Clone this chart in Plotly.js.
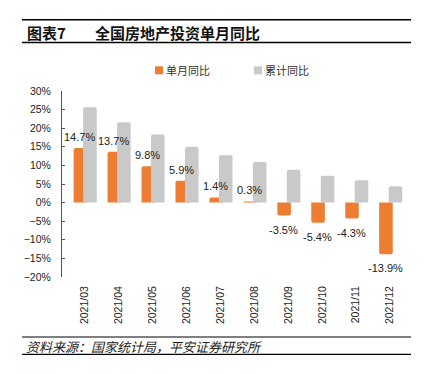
<!DOCTYPE html>
<html>
<head>
<meta charset="utf-8">
<script src="https://cdn.plot.ly/plotly-3.0.1.min.js"></script>
<style>
html,body{margin:0;padding:0;background:#fff;}
#chart{width:434px;height:374px;}
</style>
</head>
<body>
<div id="chart"></div>
<script>
// ---- data ----
const categories = ['2021/03','2021/04','2021/05','2021/06','2021/07','2021/08','2021/09','2021/10','2021/11','2021/12'];
const monthlyYoY = [14.7, 13.7, 9.8, 5.9, 1.4, 0.3, -3.5, -5.4, -4.3, -13.9];
const cumulativeYoY = [25.6, 21.6, 18.3, 15.0, 12.7, 10.9, 8.8, 7.2, 6.0, 4.4];
const seriesNames = ['单月同比', '累计同比'];
const figureLabel = '图表7';
const chartTitle = '全国房地产投资单月同比';
const sourceNote = '资料来源：国家统计局，平安证券研究所';
const yRange = [-20, 30];

// ---- geometry helpers (pixels -> paper) ----
const W = 434, H = 374, L = 62, R = 27, T = 90.7, B = 97.3;
const PW = W - L - R, PH = H - T - B;
const px = x => (x - L) / PW;
const py = y => (H - B - y) / PH;

const ORANGE = '#ED7D31', GRAY = '#C9C9C9';
const NUMFONT = 'Liberation Sans, Arial, sans-serif';
const CJK = 'Noto Sans CJK SC, sans-serif';

const traces = [
  {type:'bar', name:seriesNames[0], x:categories, y:monthlyYoY,
   marker:{color:ORANGE, cornerradius:2}, offset:-0.32, width:0.4,
   hoverinfo:'skip', showlegend:false},
  {type:'bar', name:seriesNames[1], x:categories, y:cumulativeYoY,
   marker:{color:GRAY, cornerradius:2}, offset:-0.04, width:0.4,
   hoverinfo:'skip', showlegend:false}
];

const annotations = monthlyYoY.map((v, i) => ({
  x: categories[i], y: v, xref:'x', yref:'y', showarrow:false,
  text: v.toFixed(1) + '%', xshift:-5,
  yanchor: v >= 0 ? 'bottom' : 'top', yshift: v >= 0 ? 3 : -6,
  font:{family:NUMFONT, size:11, color:'#222'}
}));

annotations.push(
  {xref:'paper', yref:'paper', x:px(25), y:py(32), xanchor:'left', yanchor:'middle', showarrow:false,
   text:figureLabel, font:{family:CJK, size:15, color:'#111', weight:'bold'}},
  {xref:'paper', yref:'paper', x:px(93), y:py(32), xanchor:'left', yanchor:'middle', showarrow:false,
   text:chartTitle, font:{family:CJK, size:15, color:'#111', weight:'bold'}},
  {xref:'paper', yref:'paper', x:px(164), y:py(70), xanchor:'left', yanchor:'middle', showarrow:false,
   text:seriesNames[0], font:{family:CJK, size:11, color:'#333'}},
  {xref:'paper', yref:'paper', x:px(263), y:py(70), xanchor:'left', yanchor:'middle', showarrow:false,
   text:seriesNames[1], font:{family:CJK, size:11, color:'#333'}},
  {xref:'paper', yref:'paper', x:px(24), y:py(346), xanchor:'left', yanchor:'middle', showarrow:false,
   text:sourceNote, font:{family:CJK, size:13, color:'#222', style:'italic'}}
);

const hline = (y, w) => ({type:'line', xref:'paper', yref:'paper', x0:px(22), x1:px(411), y0:py(y), y1:py(y),
  line:{color:'#000', width:w}});
const shapes = [
  hline(19.5, 1.5), hline(42.3, 1.5), hline(336.7, 1.2), hline(354, 1.2),
  {type:'rect', xref:'paper', yref:'paper', x0:px(155), x1:px(163), y0:py(66), y1:py(74),
   fillcolor:ORANGE, line:{width:0}},
  {type:'rect', xref:'paper', yref:'paper', x0:px(254), x1:px(262), y0:py(66), y1:py(74),
   fillcolor:GRAY, line:{width:0}}
];

const zeroFrac = (0 - yRange[0]) / (yRange[1] - yRange[0]);

const layout = {
  width:W, height:H,
  margin:{l:L, r:R, t:T, b:B, pad:0},
  paper_bgcolor:'#fff', plot_bgcolor:'#fff',
  showlegend:false,
  barmode:'group',
  font:{family:NUMFONT, size:10.5, color:'#222'},
  xaxis:{type:'category', showline:false, showgrid:false, zeroline:false,
    ticks:'', tickangle:-90, ticklabelstandoff:6,
    tickfont:{family:NUMFONT, size:10.5, color:'#222'}},
  xaxis2:{overlaying:'x', anchor:'free', position:zeroFrac, type:'linear',
    range:[-0.5, categories.length - 0.5], showgrid:false, zeroline:false,
    showline:true, linecolor:'#000', linewidth:1.5,
    ticks:'inside', ticklen:4, tickwidth:1, tickcolor:'#000',
    tickvals:categories.map((c, i) => i + 0.5), showticklabels:false},
  yaxis:{range:yRange, dtick:5, ticksuffix:'%', showgrid:false, zeroline:false,
    showline:true, linecolor:'#555', linewidth:1,
    ticks:'inside', ticklen:3, tickcolor:'#555', ticklabelstandoff:8,
    tickfont:{family:NUMFONT, size:10.5, color:'#222'}},
  annotations:annotations,
  shapes:shapes
};

Plotly.newPlot('chart', traces, layout, {staticPlot:true, displayModeBar:false});
</script>
</body>
</html>
